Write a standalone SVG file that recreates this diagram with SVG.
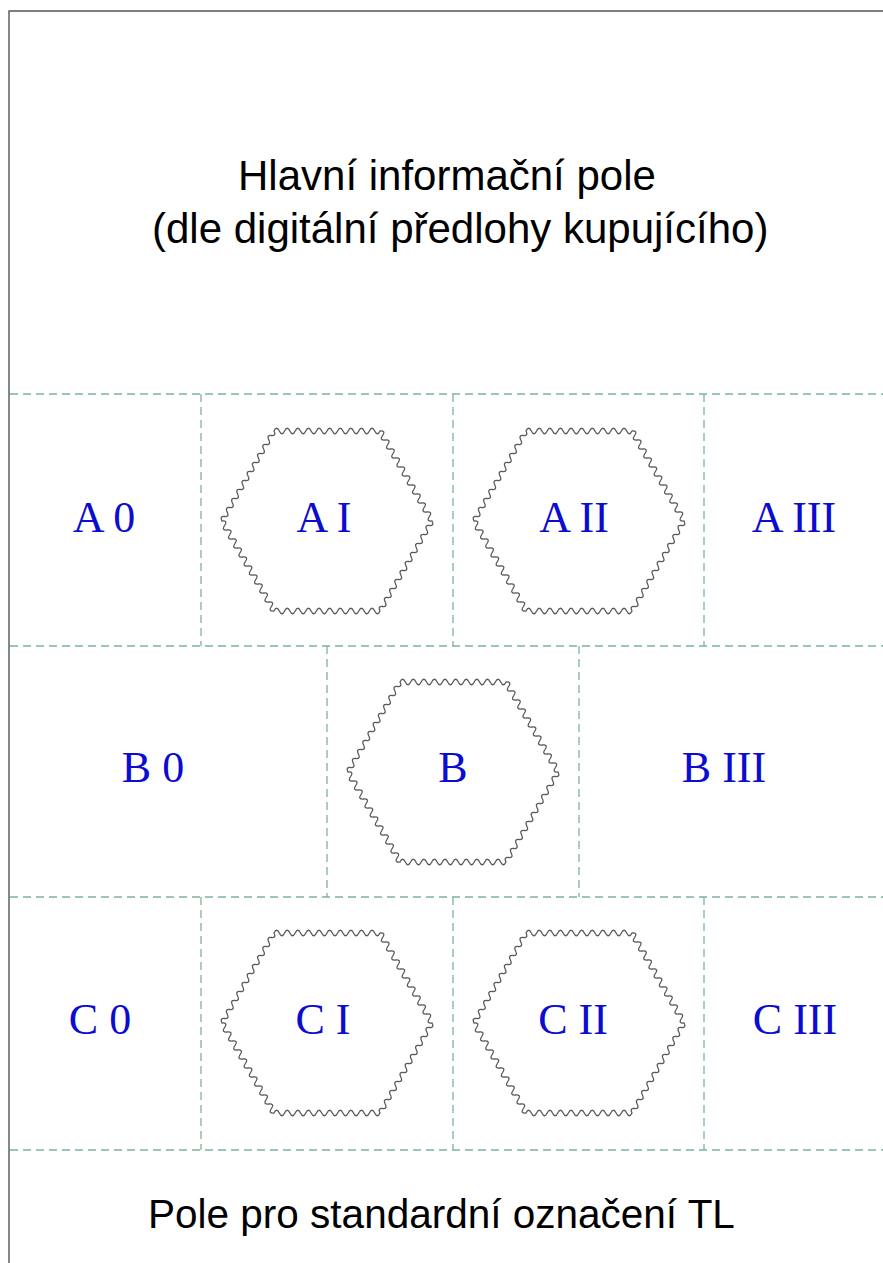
<svg xmlns="http://www.w3.org/2000/svg" xmlns:xlink="http://www.w3.org/1999/xlink" width="883" height="1263" viewBox="0 0 883 1263">
<style>
.border{fill:none;stroke:#555;stroke-width:1.4}
.dash{fill:none;stroke:#7cb495;stroke-width:1.3;stroke-dasharray:8 5}
.hex{fill:none;stroke:#5a5a5a;stroke-width:1.3}
.lbl{font-family:"Liberation Serif","Times New Roman",serif;font-size:44px;fill:#0c0cd0;text-anchor:middle}
.ttl{font-family:"Liberation Sans",Arial,sans-serif;font-size:42px;fill:#000}
.btm{font-family:"Liberation Sans",Arial,sans-serif;font-size:40.5px;fill:#000}
</style>
<defs>
<path id="hexw" class="hex" d="M-105,0 q-2.46,-5.0 2.6,-4.5 t2.6,-4.5 2.6,-4.5 2.6,-4.5 2.6,-4.5 2.6,-4.5 2.6,-4.5 2.6,-4.5 2.6,-4.5 2.6,-4.5 2.6,-4.5 2.6,-4.5 2.6,-4.5 2.6,-4.5 2.6,-4.5 2.6,-4.5 2.6,-4.5 2.6,-4.5 2.6,-4.5 2.6,-4.5 q2.65,-5.5 5.3,0 t5.3,0 5.3,0 5.3,0 5.3,0 5.3,0 5.3,0 5.3,0 5.3,0 5.3,0 5.3,0 5.3,0 5.3,0 5.3,0 5.3,0 5.3,0 5.3,0 5.3,0 5.3,0 5.3,0 q6.06,-0.5 2.6,4.5 t2.6,4.5 2.6,4.5 2.6,4.5 2.6,4.5 2.6,4.5 2.6,4.5 2.6,4.5 2.6,4.5 2.6,4.5 2.6,4.5 2.6,4.5 2.6,4.5 2.6,4.5 2.6,4.5 2.6,4.5 2.6,4.5 2.6,4.5 2.6,4.5 2.6,4.5 q2.46,5.0 -2.6,4.5 t-2.6,4.5 -2.6,4.5 -2.6,4.5 -2.6,4.5 -2.6,4.5 -2.6,4.5 -2.6,4.5 -2.6,4.5 -2.6,4.5 -2.6,4.5 -2.6,4.5 -2.6,4.5 -2.6,4.5 -2.6,4.5 -2.6,4.5 -2.6,4.5 -2.6,4.5 -2.6,4.5 -2.6,4.5 q-2.65,5.5 -5.3,0 t-5.3,0 -5.3,0 -5.3,0 -5.3,0 -5.3,0 -5.3,0 -5.3,0 -5.3,0 -5.3,0 -5.3,0 -5.3,0 -5.3,0 -5.3,0 -5.3,0 -5.3,0 -5.3,0 -5.3,0 -5.3,0 -5.3,0 q-6.06,0.5 -2.6,-4.5 t-2.6,-4.5 -2.6,-4.5 -2.6,-4.5 -2.6,-4.5 -2.6,-4.5 -2.6,-4.5 -2.6,-4.5 -2.6,-4.5 -2.6,-4.5 -2.6,-4.5 -2.6,-4.5 -2.6,-4.5 -2.6,-4.5 -2.6,-4.5 -2.6,-4.5 -2.6,-4.5 -2.6,-4.5 -2.6,-4.5 -2.6,-4.5 z"/>
</defs>
<rect x="0" y="0" width="883" height="1263" fill="#fff"/>
<g id="frame">
<path class="border" d="M9,1263 V11 H883"/>
</g>
<g id="title">
<text class="ttl" x="238" y="190">Hlavní informační pole</text>
<text class="ttl" x="152" y="243">(dle digitální předlohy kupujícího)</text>
</g>
<g id="connectors">
<path class="dash" d="M10,394 H883 M10,646 H883 M10,897 H883 M10,1150 H883"/>
<path class="dash" d="M201,394 V646 M453,394 V646 M704,394 V646"/>
<path class="dash" d="M327,646 V897 M579,646 V897"/>
<path class="dash" d="M201,897 V1150 M453,897 V1150 M704,897 V1150"/>
</g>
<g id="A0"><text class="lbl" x="104" y="532">A 0</text></g>
<g id="AI"><use xlink:href="#hexw" href="#hexw" transform="translate(327,521)"/><text class="lbl" x="324" y="532">A I</text></g>
<g id="AII"><use xlink:href="#hexw" href="#hexw" transform="translate(579,521)"/><text class="lbl" x="574" y="532">A II</text></g>
<g id="AIII"><text class="lbl" x="794" y="532">A III</text></g>
<g id="B0"><text class="lbl" x="153" y="782">B 0</text></g>
<g id="B"><use xlink:href="#hexw" href="#hexw" transform="translate(453,772)"/><text class="lbl" x="453" y="782">B</text></g>
<g id="BIII"><text class="lbl" x="724" y="782">B III</text></g>
<g id="C0"><text class="lbl" x="100" y="1034">C 0</text></g>
<g id="CI"><use xlink:href="#hexw" href="#hexw" transform="translate(327,1023)"/><text class="lbl" x="323" y="1034">C I</text></g>
<g id="CII"><use xlink:href="#hexw" href="#hexw" transform="translate(579,1023)"/><text class="lbl" x="573" y="1034">C II</text></g>
<g id="CIII"><text class="lbl" x="795" y="1034">C III</text></g>
<g id="bottom">
<text class="btm" x="148" y="1228">Pole pro standardní označení TL</text>
</g>
</svg>
